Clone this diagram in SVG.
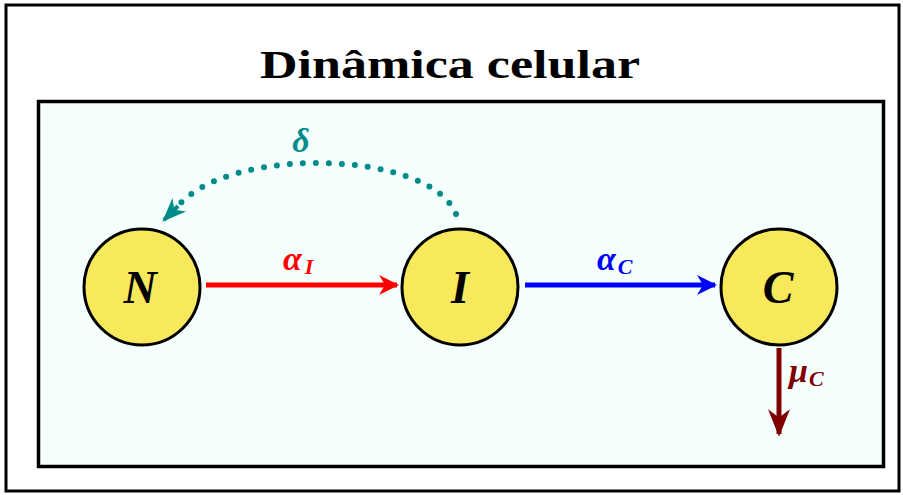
<svg xmlns="http://www.w3.org/2000/svg" width="903" height="495" viewBox="0 0 903 495">
<defs>
<style>
.node{fill:#f8e85c;stroke:#000;stroke-width:3}
.nl{font-family:"Liberation Serif","DejaVu Serif",serif;font-style:italic;font-weight:bold;font-size:46px;text-anchor:middle}
.ml{font-family:"Liberation Serif","DejaVu Serif",serif;font-style:italic;font-weight:bold;font-size:34px}
.sub{font-size:22px}
</style>
<marker id="ar" viewBox="0 0 10 10" refX="9" refY="5" markerWidth="4" markerHeight="4" markerUnits="strokeWidth" orient="auto"><path d="M0,0 L10,5 L0,10 L3,5 Z" fill="#f00"/></marker>
<marker id="ab" viewBox="0 0 10 10" refX="9" refY="5" markerWidth="4" markerHeight="4" markerUnits="strokeWidth" orient="auto"><path d="M0,0 L10,5 L0,10 L3,5 Z" fill="#00f"/></marker>
<marker id="ad" viewBox="0 0 10 10" refX="9" refY="5" markerWidth="5.5" markerHeight="5.5" markerUnits="strokeWidth" orient="auto"><path d="M0,1 L10,5 L0,9 L3,5 Z" fill="#800000"/></marker>
<marker id="at" viewBox="0 0 10 10" refX="9" refY="5" markerWidth="6" markerHeight="6" markerUnits="strokeWidth" orient="auto"><path d="M0,1 L10,5 L0,9 L3,5 Z" fill="#008b8b"/></marker>
</defs>
<rect x="0" y="0" width="903" height="495" fill="#fff"/>
<rect x="6" y="5" width="893" height="486" fill="#fff" stroke="#000" stroke-width="3"/>
<text x="450" y="78" text-anchor="middle" font-family="Liberation Serif,DejaVu Serif,serif" font-weight="bold" font-size="41" textLength="380" lengthAdjust="spacingAndGlyphs">Dinâmica celular</text>
<rect x="38.5" y="101.5" width="845" height="365" fill="#f5fffe" stroke="#000" stroke-width="3.5"/>
<g id="connectors">
<line x1="206" y1="285" x2="397" y2="285" stroke="#f00" stroke-width="5" marker-end="url(#ar)"/>
<line x1="525" y1="285" x2="715" y2="285" stroke="#00f" stroke-width="5" marker-end="url(#ab)"/>
<line x1="779" y1="348" x2="779" y2="434" stroke="#800000" stroke-width="5" marker-end="url(#ad)"/>
<path d="M456,214 C430,150 230,145 178,206" fill="none" stroke="#008b8b" stroke-width="6" stroke-linecap="round" stroke-dasharray="0 13"/>
<path d="M178,206 L164,220" fill="none" stroke="#008b8b" stroke-width="4" marker-end="url(#at)"/>
<text x="301" y="152" text-anchor="middle" class="ml" fill="#008b8b" font-size="30">δ</text>
<text x="283" y="270" class="ml" fill="#f00">α<tspan class="sub" dx="3" dy="4">I</tspan></text>
<text x="597" y="270" class="ml" fill="#00f">α<tspan class="sub" dx="2" dy="4">C</tspan></text>
<text x="789" y="382" class="ml" fill="#800000">μ<tspan class="sub" dx="1" dy="4">C</tspan></text>
</g>
<g id="N"><circle class="node" cx="142" cy="287" r="58"/><text class="nl" x="140" y="303">N</text></g>
<g id="I"><circle class="node" cx="460" cy="287" r="58"/><text class="nl" x="460" y="303">I</text></g>
<g id="C"><circle class="node" cx="779" cy="287" r="58"/><text class="nl" x="778" y="303">C</text></g>
</svg>
